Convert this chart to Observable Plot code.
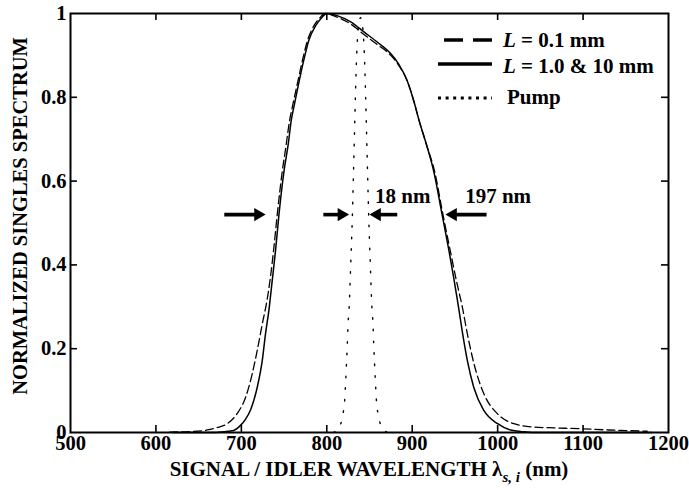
<!DOCTYPE html>
<html>
<head>
<meta charset="utf-8">
<script src="https://cdn.jsdelivr.net/npm/d3@7"></script>
<script src="https://cdn.jsdelivr.net/npm/@observablehq/plot@0.6"></script>
<style>
  html, body { margin: 0; padding: 0; background: #fff; }
  svg { display: block; }
</style>
</head>
<body>
<div id="chart"></div>
<script>
// ---- data ----
const xTicks = [500, 600, 700, 800, 900, 1000, 1100, 1200];
const yTicks = [0, 0.2, 0.4, 0.6, 0.8, 1];

// L = 1.0 & 10 mm (solid)
const solidWl  = [620, 660, 680, 691, 699, 705, 711, 718.6, 724.5, 728.3, 732.2, 736, 740, 744, 750, 755, 758.4, 761.5, 767, 773, 779, 787, 794, 800, 812, 828, 843.5, 859, 875, 884, 894, 902, 908, 917, 925, 935, 943, 953, 959, 964.5, 972, 984, 1000, 1015, 1030, 1050, 1180];
const solidVal = [0, 0, 0.002, 0.005, 0.017, 0.032, 0.055, 0.108, 0.172, 0.236, 0.291, 0.36, 0.434, 0.52, 0.625, 0.69, 0.745, 0.777, 0.832, 0.888, 0.936, 0.971, 0.99, 1.0, 0.995, 0.98, 0.956, 0.932, 0.904, 0.88, 0.84, 0.79, 0.745, 0.685, 0.625, 0.52, 0.434, 0.315, 0.236, 0.172, 0.108, 0.052, 0.021, 0.006, 0.002, 0, 0];

// L = 0.1 mm (dashed)
const dashWl  = [616, 640, 660, 672, 683.5, 695, 705, 712.7, 718.6, 724.5, 730, 734, 738, 742, 748, 752, 756.5, 760, 765.5, 771.5, 777.5, 785, 792, 798, 810, 828, 843.5, 859, 875, 884, 894, 902, 908, 917, 926, 936, 944.5, 952, 958.7, 964.5, 972.3, 984, 999.6, 1019, 1042.5, 1066, 1097, 1130, 1175];
const dashVal = [0.001, 0.002, 0.006, 0.012, 0.021, 0.045, 0.084, 0.14, 0.196, 0.259, 0.315, 0.37, 0.44, 0.52, 0.625, 0.68, 0.745, 0.78, 0.832, 0.888, 0.936, 0.971, 0.99, 1.0, 0.993, 0.975, 0.95, 0.926, 0.9, 0.877, 0.84, 0.79, 0.745, 0.685, 0.625, 0.52, 0.434, 0.36, 0.299, 0.236, 0.164, 0.092, 0.045, 0.021, 0.013, 0.011, 0.009, 0.006, 0.003];

// Pump (dotted)
const pumpWl  = [808, 816, 819, 820.8, 821.5, 822.3, 823.2, 824, 825, 826, 828, 830, 831.5, 833, 834, 835, 836, 837.5, 839.5, 841.5, 843, 844, 845, 846, 847.5, 849, 851, 853, 854, 855, 855.8, 856.7, 857.5, 858.2, 860, 863, 871];
const pumpVal = [0, 0.019, 0.045, 0.072, 0.1, 0.129, 0.17, 0.208, 0.263, 0.291, 0.4, 0.52, 0.64, 0.76, 0.84, 0.9, 0.944, 0.975, 0.99, 0.975, 0.944, 0.9, 0.84, 0.76, 0.64, 0.52, 0.4, 0.291, 0.263, 0.208, 0.17, 0.129, 0.1, 0.072, 0.045, 0.019, 0];

// FWHM arrows (tail -> tip, in nm) and their level
const arrowTail = [680, 796, 882.5, 987];
const arrowTip  = [728.3, 826, 850, 939];
const arrowLevel = 0.52;

// annotations
const annotText = ["18 nm", "197 nm"];
const annotWl   = [889, 1000.6];
const annotLevel = 0.564;

// legend
const legendItalic = ["L", "L", ""];
const legendText   = [" = 0.1 mm", " = 1.0 & 10 mm", "Pump"];

// axis titles
const yTitle = "NORMALIZED SINGLES SPECTRUM";
const xTitleMain = "SIGNAL / IDLER WAVELENGTH \u03BB";
const xTitleSub = "s, i";
const xTitleEnd = " (nm)";

// ---- build tables ----
const solid = solidWl.map((w, i) => ({w, v: solidVal[i]}));
const dashed = dashWl.map((w, i) => ({w, v: dashVal[i]}));
const pump = pumpWl.map((w, i) => ({w, v: pumpVal[i]}));
const arrows = arrowTail.map((t, i) => ({tail: t, tip: arrowTip[i], y: arrowLevel}));
const annots = annotText.map((t, i) => ({t, x: annotWl[i], y: annotLevel}));

const W = 689, H = 493;
const mL = 70, mR = 21, mT = 13, mB = 61;
const innerW = W - mL - mR, innerH = H - mT - mB;
const tickLen = 7;
const FONT = "'Liberation Serif', 'Times New Roman', Times, serif";

const plot = Plot.plot({
  width: W, height: H,
  marginLeft: mL, marginRight: mR, marginTop: mT, marginBottom: mB,
  style: {fontFamily: FONT, fontWeight: "bold", fontSize: "20px", color: "black", background: "white"},
  x: {domain: [500, 1200]},
  y: {domain: [0, 1]},
  marks: [
    Plot.axisX(xTicks, {tickSize: 0, tickPadding: 3, label: null, fontSize: 20.5, tickFormat: d => String(d)}),
    Plot.axisY(yTicks, {tickSize: 0, tickPadding: 4, label: null, fontSize: 20.5, tickFormat: d => String(d)}),
    Plot.tickX(xTicks.slice(1, -1), {x: d => d, insetTop: innerH - tickLen, strokeWidth: 1.6}),
    Plot.tickX(xTicks.slice(1, -1), {x: d => d, insetBottom: innerH - tickLen, strokeWidth: 1.6}),
    Plot.tickY(yTicks.slice(1, -1), {y: d => d, insetRight: innerW - tickLen, strokeWidth: 1.6}),
    Plot.tickY(yTicks.slice(1, -1), {y: d => d, insetLeft: innerW - tickLen, strokeWidth: 1.6}),
    Plot.line(pump, {x: "w", y: "v", stroke: "black", strokeWidth: 1.4, strokeDasharray: "1.6,10", curve: "monotone-x"}),
    Plot.line(dashed, {x: "w", y: "v", stroke: "black", strokeWidth: 1.3, strokeDasharray: "8,4", curve: "monotone-x"}),
    Plot.line(solid, {x: "w", y: "v", stroke: "black", strokeWidth: 1.5, curve: "monotone-x"}),
    Plot.arrow(arrows, {x1: "tail", x2: "tip", y1: "y", y2: "y", headLength: 0, insetEnd: 8, strokeWidth: 3.6, strokeLinecap: "butt", stroke: "black"}),
    Plot.dot(arrows.filter(d => d.tip > d.tail), {x: "tip", y: "y", symbol: "triangle", r: 4.9, fill: "black", stroke: null, rotate: 90, dx: -7.5}),
    Plot.dot(arrows.filter(d => d.tip < d.tail), {x: "tip", y: "y", symbol: "triangle", r: 4.9, fill: "black", stroke: null, rotate: -90, dx: 7.5}),
    Plot.text(annots, {x: "x", y: "y", text: "t", fontSize: 21, fontWeight: "bold", lineAnchor: "middle", textAnchor: "middle"}),
    Plot.frame({strokeWidth: 2, stroke: "black"})
  ]
});

document.getElementById("chart").appendChild(plot);

// ---- legend and axis titles ----
const svg = d3.select(plot);
const lg = svg.append("g").attr("font-family", FONT).attr("font-weight", "bold").attr("font-size", 21)
  .attr("fill", "black").attr("text-anchor", "start");
const legendLines = [
  {x1: 444, x2: 492, y: 40, sw: 3.6, dash: "19,10", tx: 503, ty: 47},
  {x1: 438, x2: 492, y: 64, sw: 3.6, dash: null, tx: 503, ty: 72.5},
  {x1: 438, x2: 492, y: 98, sw: 2.8, dash: "3,4.6", tx: 507, ty: 104}
];
legendLines.forEach((s, i) => {
  lg.append("line").attr("x1", s.x1).attr("x2", s.x2).attr("y1", s.y).attr("y2", s.y)
    .attr("stroke", "black").attr("stroke-width", s.sw).attr("stroke-dasharray", s.dash);
  const t = lg.append("text").attr("x", s.tx).attr("y", s.ty).attr("text-anchor", "start");
  if (legendItalic[i]) t.append("tspan").attr("font-style", "italic").text(legendItalic[i]);
  t.append("tspan").text(legendText[i]);
});

const tg = svg.append("g").attr("font-family", FONT).attr("font-weight", "bold").attr("fill", "black");
tg.append("text").attr("font-size", 20.5).attr("transform", "translate(27,216) rotate(-90)")
  .attr("text-anchor", "middle").text(yTitle);
const xt = tg.append("text").attr("font-size", 21).attr("x", mL + innerW / 2).attr("y", 476).attr("text-anchor", "middle");
xt.append("tspan").text(xTitleMain);
xt.append("tspan").attr("font-style", "italic").attr("font-size", 15).attr("dy", 6).text(xTitleSub);
xt.append("tspan").attr("dy", -6).text(xTitleEnd);
</script>
</body>
</html>
